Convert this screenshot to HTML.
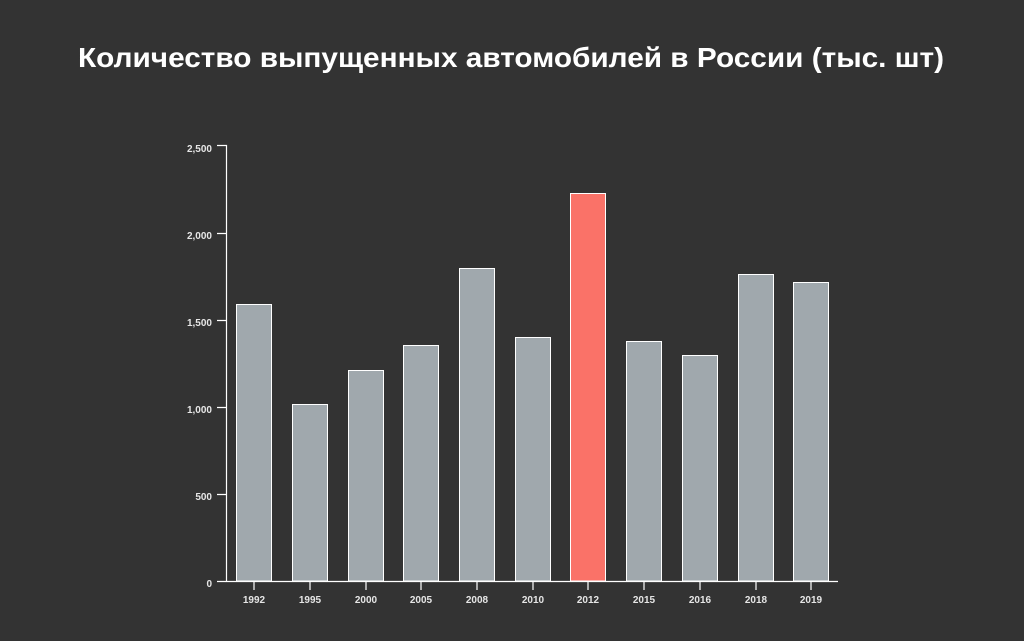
<!DOCTYPE html>
<html><head><meta charset="utf-8"><style>
body{margin:0;background:#333333;width:1024px;height:641px;overflow:hidden}
svg{display:block}
</style></head><body>
<svg width="1024" height="641" xmlns="http://www.w3.org/2000/svg" font-family="Liberation Sans, sans-serif">
<rect width="1024" height="641" fill="#333333"/>
<text x="511" y="67" text-anchor="middle" fill="#ffffff" font-size="28" font-weight="bold" textLength="866" lengthAdjust="spacingAndGlyphs">Количество выпущенных автомобилей в России (тыс. шт)</text>
<g fill="#a0a8ad" stroke="#ffffff" stroke-width="1">
<rect x="236.5" y="304.5" width="35" height="276.5"/>
<rect x="292.5" y="404.5" width="35" height="176.5"/>
<rect x="348.5" y="370.5" width="35" height="210.5"/>
<rect x="403.5" y="345.5" width="35" height="235.5"/>
<rect x="459.5" y="268.5" width="35" height="312.5"/>
<rect x="515.5" y="337.5" width="35" height="243.5"/>
<rect x="570.5" y="193.5" width="35" height="387.5" fill="#fa7268"/>
<rect x="626.5" y="341.5" width="35" height="239.5"/>
<rect x="682.5" y="355.5" width="35" height="225.5"/>
<rect x="738.5" y="274.5" width="35" height="306.5"/>
<rect x="793.5" y="282.5" width="35" height="298.5"/>
</g>
<g stroke="#ffffff" stroke-width="1.2" fill="none">
<path d="M217 145.5H226.5V581.5H838"/>
<path d="M217 233.5H226 M217 320.5H226 M217 407.5H226 M217 494.5H226 M217 581.5H226"/>
<path d="M254 581v9 M310 581v9 M366 581v9 M421 581v9 M477 581v9 M533 581v9 M588 581v9 M644 581v9 M700 581v9 M756 581v9 M811 581v9"/>
</g>
<g fill="#e6e6e6" font-size="10" font-weight="bold" text-anchor="end">
<text x="212" y="152">2,500</text>
<text x="212" y="239">2,000</text>
<text x="212" y="326">1,500</text>
<text x="212" y="413">1,000</text>
<text x="212" y="500">500</text>
<text x="212" y="587">0</text>
</g>
<g fill="#e6e6e6" font-size="10" font-weight="bold" text-anchor="middle">
<text x="254" y="603">1992</text><text x="310" y="603">1995</text><text x="366" y="603">2000</text>
<text x="421" y="603">2005</text><text x="477" y="603">2008</text><text x="533" y="603">2010</text>
<text x="588" y="603">2012</text><text x="644" y="603">2015</text><text x="700" y="603">2016</text>
<text x="756" y="603">2018</text><text x="811" y="603">2019</text>
</g>
</svg>
</body></html>
